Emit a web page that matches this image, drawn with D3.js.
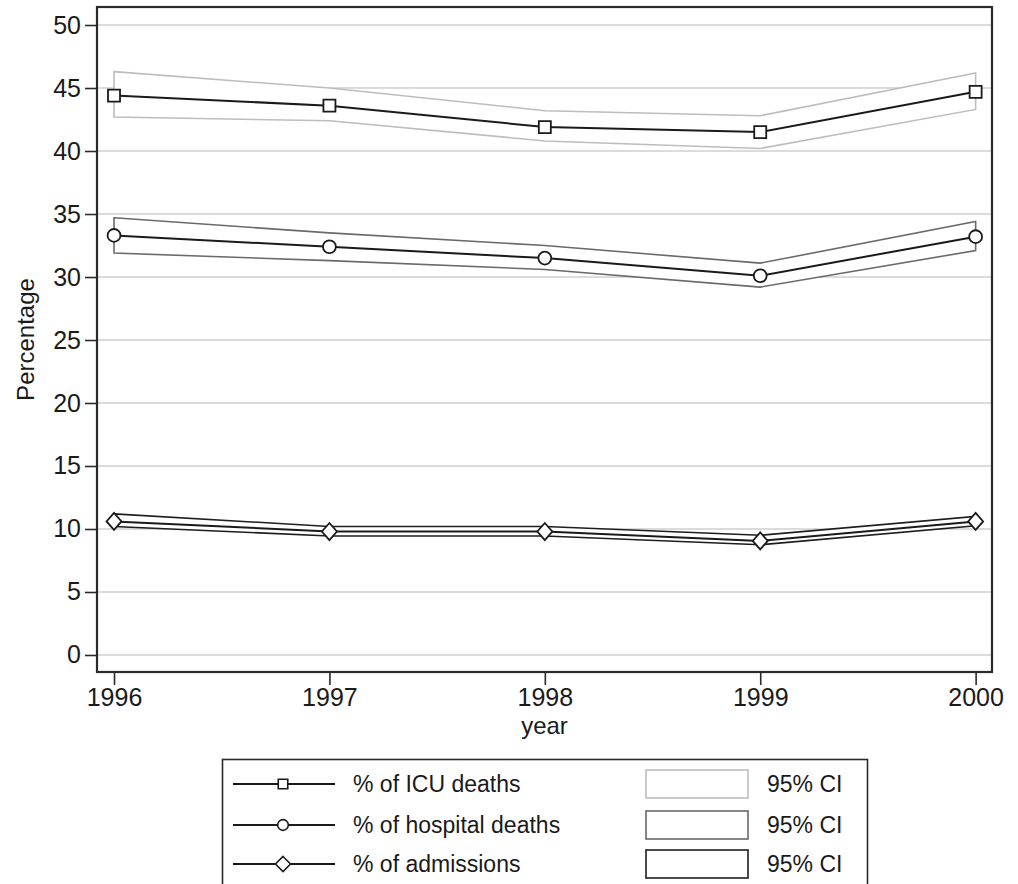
<!DOCTYPE html>
<html>
<head>
<meta charset="utf-8">
<script src="https://cdn.jsdelivr.net/npm/d3@7"></script>
<style>
  body { margin: 0; background: #fff; }
  svg { display: block; font-family: "Liberation Sans", Arial, sans-serif; }
</style>
</head>
<body>
<svg id="chart" width="1018" height="884"></svg>
<script>
const years = [ 1996, 1997, 1998, 1999, 2000 ];
const yTicks = [ 0, 5, 10, 15, 20, 25, 30, 35, 40, 45, 50 ];

const icuDeaths = [ 44.4, 43.6, 41.9, 41.5, 44.7 ];
const icuLower = [ 42.7, 42.4, 40.8, 40.2, 43.3 ];
const icuUpper = [ 46.3, 45.0, 43.2, 42.8, 46.2 ];

const hospDeaths = [ 33.3, 32.4, 31.5, 30.1, 33.2 ];
const hospLower = [ 31.9, 31.3, 30.6, 29.2, 32.1 ];
const hospUpper = [ 34.7, 33.5, 32.5, 31.1, 34.4 ];

const admissions = [ 10.6, 9.8, 9.8, 9.05, 10.6 ];
const admLower = [ 10.2, 9.45, 9.45, 8.75, 10.25 ];
const admUpper = [ 11.2, 10.2, 10.2, 9.5, 11.0 ];

const series = [
  { label: "% of ICU deaths", values: icuDeaths, lo: icuLower, hi: icuUpper, band: "#bdbdbd", marker: "square" },
  { label: "% of hospital deaths", values: hospDeaths, lo: hospLower, hi: hospUpper, band: "#6a6a6a", marker: "circle" },
  { label: "% of admissions", values: admissions, lo: admLower, hi: admUpper, band: "#1e1e1e", marker: "diamond" },
];

const svg = d3.select( "#chart" );
const PLOT = { left: 97, right: 992, top: 7, bottom: 672 };

const x = d3.scaleLinear()
  .domain( [ 1995.921, 2000.076 ] )
  .range( [ PLOT.left, PLOT.right ] );
const y = d3.scaleLinear()
  .domain( [ -1.35, 51.43 ] )
  .range( [ PLOT.bottom, PLOT.top ] );

// gridlines
svg.append( "g" )
  .selectAll( "line" )
  .data( yTicks )
  .join( "line" )
  .attr( "x1", PLOT.left )
  .attr( "x2", PLOT.right )
  .attr( "y1", d => y( d ) )
  .attr( "y2", d => y( d ) )
  .attr( "stroke", "#cfcfcf" )
  .attr( "stroke-width", 1.5 );

// confidence bands (white fill hides gridlines)
const bandArea = s => {
  const pts = years.map( ( yr, i ) => [ x( yr ), y( s.hi[i] ) ] )
    .concat( years.map( ( yr, i ) => [ x( yr ), y( s.lo[i] ) ] ).reverse() );
  return d3.line()( pts ) + "Z";
};

svg.append( "g" )
  .selectAll( "path" )
  .data( series )
  .join( "path" )
  .attr( "d", bandArea )
  .attr( "fill", "#fff" )
  .attr( "stroke", d => d.band )
  .attr( "stroke-width", 1.6 );

// series lines
const line = d3.line()
  .x( ( d, i ) => x( years[i] ) )
  .y( d => y( d ) );

svg.append( "g" )
  .selectAll( "path" )
  .data( series )
  .join( "path" )
  .attr( "d", d => line( d.values ) )
  .attr( "fill", "none" )
  .attr( "stroke", "#1a1a1a" )
  .attr( "stroke-width", 2 );

const markerPath = {
  square: d3.symbol( d3.symbolSquare, 144 ),
  circle: d3.symbol( d3.symbolCircle, 130 ),
  diamond: () => "M0,-8.5L7.5,0L0,8.5L-7.5,0Z",
};

series.forEach( s => {
  svg.append( "g" )
    .selectAll( "path" )
    .data( s.values )
    .join( "path" )
    .attr( "transform", ( d, i ) => `translate(${x( years[i] )},${y( d )})` )
    .attr( "d", markerPath[s.marker]() )
    .attr( "fill", "#fff" )
    .attr( "stroke", "#1a1a1a" )
    .attr( "stroke-width", 1.8 );
} );

// axes
const yAxis = d3.axisLeft( y ).tickValues( yTicks ).tickSize( 12 ).tickPadding( 4 );
const gy = svg.append( "g" )
  .attr( "transform", `translate(${PLOT.left},0)` )
  .call( yAxis );
gy.select( ".domain" ).remove();

const xAxis = d3.axisBottom( x ).tickValues( years ).tickFormat( d3.format( "d" ) ).tickSize( 13 ).tickPadding( 3 );
const gx = svg.append( "g" )
  .attr( "transform", `translate(0,${PLOT.bottom})` )
  .call( xAxis );
gx.select( ".domain" ).remove();

[ gx, gy ].forEach( g => {
  g.attr( "font-size", null ).attr( "font-family", null );
  g.selectAll( "line" ).attr( "stroke", "#2a2a2a" ).attr( "stroke-width", 1.6 );
  g.selectAll( "text" )
    .attr( "fill", "#1a1a1a" )
    .style( "font-size", "25px" );
} );

// plot frame
svg.append( "rect" )
  .attr( "x", PLOT.left )
  .attr( "y", PLOT.top )
  .attr( "width", PLOT.right - PLOT.left )
  .attr( "height", PLOT.bottom - PLOT.top )
  .attr( "fill", "none" )
  .attr( "stroke", "#2a2a2a" )
  .attr( "stroke-width", 2.2 );

// axis titles
svg.append( "text" )
  .attr( "x", ( PLOT.left + PLOT.right ) / 2 )
  .attr( "y", 734 )
  .attr( "text-anchor", "middle" )
  .attr( "fill", "#1a1a1a" )
  .style( "font-size", "24px" )
  .text( "year" );

svg.append( "text" )
  .attr( "transform", `translate(34,${( PLOT.top + PLOT.bottom ) / 2}) rotate(-90)` )
  .attr( "text-anchor", "middle" )
  .attr( "fill", "#1a1a1a" )
  .style( "font-size", "24px" )
  .text( "Percentage" );

// legend
const legend = svg.append( "g" );
legend.append( "rect" )
  .attr( "x", 222.5 )
  .attr( "y", 759.5 )
  .attr( "width", 645 )
  .attr( "height", 140 )
  .attr( "fill", "#fff" )
  .attr( "stroke", "#2a2a2a" )
  .attr( "stroke-width", 1.6 );

const rowY = [ 784, 825, 864 ];
const rows = legend.selectAll( "g.row" )
  .data( series )
  .join( "g" )
  .attr( "class", "row" )
  .attr( "transform", ( d, i ) => `translate(0,${rowY[i]})` );

rows.append( "line" )
  .attr( "x1", 233 )
  .attr( "x2", 335 )
  .attr( "stroke", "#1a1a1a" )
  .attr( "stroke-width", 1.8 );

rows.append( "path" )
  .attr( "transform", "translate(283,0)" )
  .attr( "d", d => d.marker === "diamond" ? "M0,-7.5L7.5,0L0,7.5L-7.5,0Z" : d3.symbol( d.marker === "square" ? d3.symbolSquare : d3.symbolCircle, 90 )() )
  .attr( "fill", "#fff" )
  .attr( "stroke", "#1a1a1a" )
  .attr( "stroke-width", 1.6 );

rows.append( "text" )
  .attr( "x", 353 )
  .attr( "dy", "0.35em" )
  .attr( "fill", "#1a1a1a" )
  .style( "font-size", "23px" )
  .text( d => d.label );

rows.append( "rect" )
  .attr( "x", 646 )
  .attr( "y", -14 )
  .attr( "width", 102 )
  .attr( "height", 28 )
  .attr( "fill", "#fff" )
  .attr( "stroke", d => d.band )
  .attr( "stroke-width", 1.6 );

rows.append( "text" )
  .attr( "x", 767 )
  .attr( "dy", "0.35em" )
  .attr( "fill", "#1a1a1a" )
  .style( "font-size", "23px" )
  .text( "95% CI" );
</script>
</body>
</html>
